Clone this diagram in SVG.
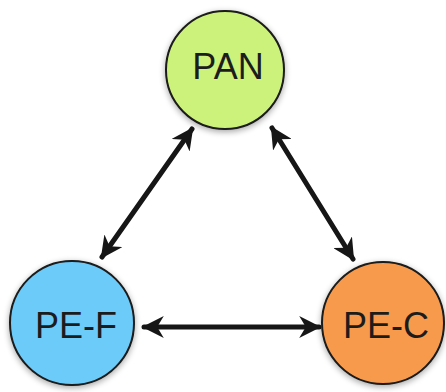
<svg xmlns="http://www.w3.org/2000/svg" width="446" height="392" viewBox="0 0 446 392">
<defs>
<filter id="sh" x="-20%" y="-20%" width="140%" height="140%">
<feGaussianBlur in="SourceAlpha" stdDeviation="3"/>
<feOffset dx="0" dy="2" result="b"/>
<feComponentTransfer><feFuncA type="linear" slope="0.35"/></feComponentTransfer>
<feMerge><feMergeNode/><feMergeNode in="SourceGraphic"/></feMerge>
</filter>
<marker id="ah" viewBox="0 0 20 20" refX="18" refY="10" markerWidth="4.4" markerHeight="4.4" orient="auto-start-reverse" markerUnits="strokeWidth">
<path d="M0,0 L20,10 L0,20 L6,10 Z" fill="#161616"/>
</marker>
<style>
.n{stroke:#1a1a1a;stroke-width:2;filter:url(#sh)}
.t{font-family:"Liberation Sans",Arial,sans-serif;font-size:36px;fill:#1c1c1c;text-anchor:middle}
.c{stroke:#161616;stroke-width:5;fill:none;stroke-linecap:round;marker-start:url(#ah);marker-end:url(#ah)}
</style>
</defs>
<g id="connectors">
<line class="c" x1="102" y1="257" x2="192" y2="129"/>
<line class="c" x1="272" y1="128" x2="353" y2="259"/>
<line class="c" x1="144" y1="327" x2="319" y2="327"/>
</g>
<g id="PAN">
<circle class="n" cx="225" cy="70" r="59" fill="#cdf27c"/>
<text class="t" x="228" y="79">PAN</text>
</g>
<g id="PE-F">
<circle class="n" cx="72" cy="323" r="62" fill="#6ccbf9"/>
<text class="t" x="76" y="338">PE-F</text>
</g>
<g id="PE-C">
<circle class="n" cx="383" cy="323" r="61" fill="#f89a4c"/>
<text class="t" x="386" y="338">PE-C</text>
</g>
</svg>
